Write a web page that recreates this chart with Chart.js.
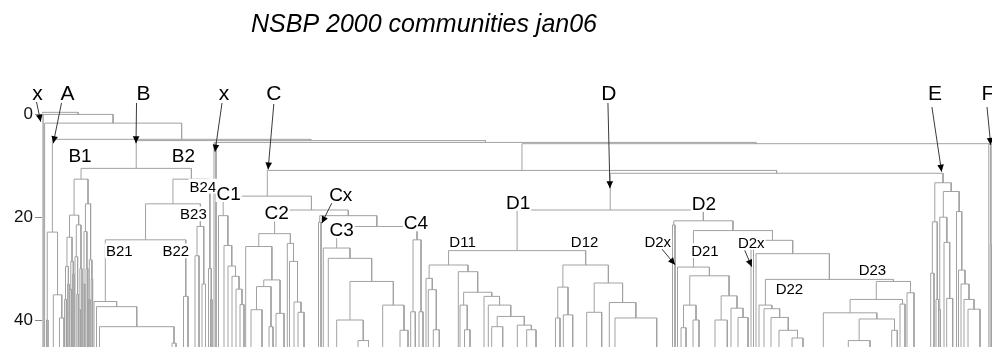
<!DOCTYPE html>
<html>
<head>
<meta charset="utf-8">
<script src="https://cdn.jsdelivr.net/npm/chart.js@4/dist/chart.umd.min.js"></script>
<style>
html,body{margin:0;padding:0;background:#fff;}
#wrap{width:992px;height:347px;position:relative;}
</style>
</head>
<body>
<div id="wrap"><canvas id="c"></canvas></div>
<script>
// ---------------- DATA ----------------
// Dendrogram of communities. Leaf positions are in leaf-order units (0..475);
// heights are the merge levels on the vertical axis (0 at top).
// A cluster is [mergeHeight, left, right]; a plain number is a branch that
// continues below the visible window.
const chartTitle = 'NSBP 2000 communities jan06';
const yTicks = [0, 20, 40];

const leavesX = [0, 0.65, 1.3];
const clusterA   = [22.9, [40, 2.25, 3], [35.1, 5.65, [39.6, 8.75, 11]]];
const clusterB1  = [12.6,
  [19.6, [23.9, [29.6, [36, 11.3, 12.2], [33, 12.8, 13.6]], [28.6, [34, 14, 14.8], [31, 15.3, 16]]],
         [21.5, [27.7, 16.5, [35, 17.4, 18.2]], [30, [38, 18.6, 19.3], 20]]],
  [17.4, [22.8, [33, 20.6, 21.4], [30, 22, 22.9]], [28.3, [36, 23.3, 24], [32, 24.6, 25.3]]]];
const clusterB21 = [36.4, 26, [37.4, 27.25, [41.3, 28.75, [44.5, 65, 67]]]];
const clusterB22 = [35.4, 70.75, 73];
const clusterB23 = [21.8, [27.5, 76.5, 78.5], [33, 80, 81.75]];
const clusterB24 = [30, 83.25, [36, 84.25, 85]];
const clusterX2  = [5.5, 86, 87];
const clusterC1  = [19.7, 88.25, [25.5, 91, [29.5, 93, [31.5, 95, [34, 97, [37, 99, 101]]]]]];
const clusterC2  = [23.2,
  [25.7, 101.85, [32.2, [33.5, [38, 104.5, 110], [41.3, 113.5, 115.5]], [38.7, 117, 121]]],
  [25.1, 122.65, [28.6, 123.75, [36.5, 126, [38.5, 128, 131]]]]];
const clusterCx  = [21, 138.25, 139.5];
const clusterC3  = [26.0, 140.65, [28.0, 143.15, [32.5, [40.0, 147.35, [44, 158, 163.25]], [37.1, 170.35, [42, 179, 183]]]]];
const clusterC4  = [24.4, [38.4, 184.35, 186.65], [38.4, 188.5, 190.5]];
const clusterD11 = [29.3,
  [31.9, 192, [34.1, 193.15, [41.9, 195.65, 198.65]]],
  [30.6, 208.15, [34.6, [37.1, 209, [41.9, 211.25, 214]],
    [35.4, 221, [37.1, 223.15, [39.3, [41.3, 224.85, 230.35], [41, 237.65, [41.9, 242.35, 247]]]]]]]];
const clusterD12 = [29.3,
  [33.6, [39.6, 256.75, 259], [39, 260.65, 265.35]],
  [32.8, [38.5, 272.35, 279.85], [36.6, 283.65, [39.6, 286.5, 307.35]]]];
const clusterD2x  = [21.5, 315.25, 316.5];
const clusterD21  = [29.7, 317.75, [31.4, [37.1, [41.5, 319.5, 322], [40, 325.5, 328.5]],
  [35.3, [40, 336.5, 342.65], [37.7, 344.5, [39.5, 348, 353]]]]];
const clusterD2x2 = [25, 354.5, 355.75];
const clusterD22  = [37.1, 358.5, [37.8, 361, [39.5, 364.5, [42, 368.5, [43.5, 375, 380.5]]]]];
const clusterD23  = [32.5, [36, [38.6, 390.65, [39.8, [44, 403.15, 414], [42, 424.85, 427.65]]], [36.9, 429, 431.5]], [34.7, 432.5, 436]];
const clusterE    = [13.3,
  [20.9, [30.9, 444.35, 446], [36, 447, 448.25]],
  [15, [20, [38, 448.5, 449.25], [24.9, 451, [35.8, 452.35, 455.35]]],
       [18.9, 457.25, [30.3, 458.25, [33, 459.5, [36, 461, [37.9, 463, 469]]]]]]];
const clusterF    = [5.8, 473.4, [25.5, 474.1, 474.75]];

// upper joins between the named clusters
const joinName   = ['B2b','B2a','B2','B','C34','Cq','Cr','C','D1','D2t','D2s','D2q','D2r','D2','D','N8','N7','N6','N5','N4','N3','N2','N1','root'];
const joinLeft   = ['B21','B2b','B2a','B1','C3','Cx','C2','C1','D11','D22',357,'D2x2','D21','D2x','D1','D','C','N7','X2','B','A','x2','x1','x0'];
const joinRight  = ['B22','B23','B24','B2','C4','C34','Cq','Cr','D12','D23','D2t','D2s','D2q','D2r','D2','E','N8','F','N6','N5','N4','N3','N2','N1'];
const joinHeight = [24.4, 17.4, 12.6, 10.5, 21.8, 19.7, 18.6, 15.9, 26.5, 32.1, 27.1, 24.5, 22.6, 20.7, 18.6, 11.45, 10.9, 5.7, 5.45, 5.1, 4.85, 1.7, 0, -0.4];

// annotations
const arrowLabels  = ['x','A','B','x','C','D','E','F'];
const arrowTargets = ['x0','A','B','X2','C','D','E','F'];
const clusterLabels  = ['B1','B2','B24','B23','B21','B22','C1','C2','Cx','C3','C4','D1','D2','D11','D12','D2x','D21','D2x','D23','D22'];
const clusterTargets = ['B1','B2','B24','B23','B21','B22','C1','C2','Cx','C3','C4','D1','D2','D11','D12','D2x','D21','D2x2','D23','D22'];

// ---------------- LAYOUT / STYLE ----------------
const FONT = '"Liberation Sans", Arial, Helvetica, sans-serif';
const LINE_COLOR = '#a2a2a2';
const arrowLabelDx = [-4.5, 15.1, 7.3, 9, 6.5, -1.3, -8.1, -1.8];
const arrowTipOff  = [[-1.3,9.4],[0.9,4],[-0.2,2.7],[0,9.3],[0.8,-1],[-0.3,15],[-1.4,-1.6],[0.9,1.3]];
const arrowStartOff = [[-1,9],[-6,10],[-7,10],[-2,10],[0,11],[-1,10],[-3,14],[-1,14]];
const bigLabels = ['B1','B2','C1','C2','Cx','C3','C4','D1','D2'];
const clusterLabelOff = [[-1,-13],[-8,-13],[-7,7],[-7,10],[14,11],[-10,11],[5.5,-3],[2,2.5],[21,-21.5],[5,3],[-1,-4],[1,-8],[0.5,-7],[14,-9],[-1,-9],[-16,21],[11.5,20],[-1,2],[-21,-10],[24,9]];
const clusterArrowTip = {8: [2,7.5], 15: [1.3,44], 17: [-0.5,26.4]};
const clusterArrowStart = {8: [-9,9], 15: [4,7], 17: [-6.5,8]};

// ---------------- BUILD TREE ----------------
const clusters = {
  x0: leavesX[0], x1: leavesX[1], x2: leavesX[2],
  A: clusterA, B1: clusterB1, B21: clusterB21, B22: clusterB22, B23: clusterB23, B24: clusterB24,
  X2: clusterX2, C1: clusterC1, C2: clusterC2, Cx: clusterCx, C3: clusterC3, C4: clusterC4,
  D11: clusterD11, D12: clusterD12, D2x: clusterD2x, D21: clusterD21, D2x2: clusterD2x2,
  D22: clusterD22, D23: clusterD23, E: clusterE, F: clusterF
};
const LEAF_BOTTOM = 60;
const nodes = {};
const segs = [];
function layoutNode(n) {
  if (typeof n === 'number') return {x: n, h: LEAF_BOTTOM};
  if (typeof n === 'string') return resolve(n);
  const h = n[0];
  const L = layoutNode(n[1]), R = layoutNode(n[2]);
  if (typeof n[1] === 'string') nodes[n[1]].top = h;
  if (typeof n[2] === 'string') nodes[n[2]].top = h;
  segs.push([[L.x, L.h], [L.x, h], [R.x, h], [R.x, R.h]]);
  return {x: (L.x + R.x) / 2, h: h};
}
function resolve(name) {
  if (nodes[name]) return nodes[name];
  let r;
  if (name in clusters) r = layoutNode(clusters[name]);
  else {
    const i = joinName.indexOf(name);
    r = layoutNode([joinHeight[i], joinLeft[i], joinRight[i]]);
  }
  nodes[name] = r;
  return r;
}
resolve('root');
nodes.root.top = nodes.root.h;

const pts = [];
segs.forEach(s => {
  s.forEach(p => pts.push({x: p[0], y: p[1]}));
  pts.push({x: s[3][0], y: null});
});

// ---------------- DRAW ----------------
function arrow(ctx, x1, y1, x2, y2) {
  ctx.strokeStyle = '#3a3a3a'; ctx.lineWidth = 1;
  ctx.beginPath(); ctx.moveTo(x1, y1); ctx.lineTo(x2, y2); ctx.stroke();
  const a = Math.atan2(y2 - y1, x2 - x1), L = 7, W = 3.3;
  ctx.fillStyle = '#000';
  ctx.beginPath();
  ctx.moveTo(x2, y2);
  ctx.lineTo(x2 - L * Math.cos(a) + W * Math.sin(a), y2 - L * Math.sin(a) - W * Math.cos(a));
  ctx.lineTo(x2 - L * Math.cos(a) - W * Math.sin(a), y2 - L * Math.sin(a) + W * Math.cos(a));
  ctx.closePath(); ctx.fill();
}
function boxedText(ctx, t, cx, cy, size) {
  ctx.font = size + 'px ' + FONT;
  const w = ctx.measureText(t).width, capH = size * 0.72;
  ctx.fillStyle = '#fff';
  ctx.fillRect(cx - w / 2 - 1, cy - capH / 2 - 2, w + 2, capH + 4);
  ctx.fillStyle = '#000';
  ctx.textAlign = 'center'; ctx.textBaseline = 'alphabetic';
  ctx.fillText(t, cx, cy + capH / 2);
}
const annotate = {
  id: 'annotate',
  afterDraw(chart) {
    const ctx = chart.ctx, xs = chart.scales.x, ys = chart.scales.y;
    const anchor = name => [xs.getPixelForValue(nodes[name].x), ys.getPixelForValue(nodes[name].top)];
    ctx.save();
    // title
    ctx.font = 'italic 25px ' + FONT;
    ctx.fillStyle = '#000'; ctx.textAlign = 'center'; ctx.textBaseline = 'alphabetic';
    ctx.fillText(chartTitle, 424, 32);
    // top labels with arrows
    arrowLabels.forEach((t, i) => {
      const [ax, ay] = anchor(arrowTargets[i]);
      const lx = ax + arrowLabelDx[i], ly = 93;
      ctx.font = '21px ' + FONT; ctx.fillStyle = '#000';
      ctx.textAlign = 'center'; ctx.textBaseline = 'alphabetic';
      ctx.fillText(t, lx, 100);
      arrow(ctx, lx + arrowStartOff[i][0], ly + arrowStartOff[i][1], ax + arrowTipOff[i][0], ay + arrowTipOff[i][1]);
    });
    // cluster labels
    clusterLabels.forEach((t, i) => {
      const [ax, ay] = anchor(clusterTargets[i]);
      const cx = ax + clusterLabelOff[i][0], cy = ay + clusterLabelOff[i][1];
      const size = bigLabels.includes(t) ? 19 : 15;
      if (clusterArrowTip[i]) {
        arrow(ctx, cx + clusterArrowStart[i][0], cy + clusterArrowStart[i][1], ax + clusterArrowTip[i][0], ay + clusterArrowTip[i][1]);
      }
      boxedText(ctx, t, cx, cy, size);
    });
    ctx.restore();
  }
};

new Chart(document.getElementById('c'), {
  type: 'line',
  data: {
    datasets: [{
      data: pts,
      borderColor: LINE_COLOR,
      borderWidth: 1,
      pointRadius: 0,
      pointHoverRadius: 0,
      spanGaps: false,
      tension: 0,
      fill: false
    }]
  },
  options: {
    responsive: true,
    maintainAspectRatio: false,
    animation: false,
    devicePixelRatio: 1,
    layout: {padding: {top: 100, left: 0, right: 0, bottom: 0}},
    plugins: {legend: {display: false}, tooltip: {enabled: false}, title: {display: false}},
    events: [],
    scales: {
      x: {type: 'linear', min: 0, max: 475, display: false},
      y: {
        type: 'linear', min: -2.8, max: 45.25, reverse: true,
        afterFit(s) { s.width = 42; s.paddingTop = 0; s.paddingBottom = 0; },
        afterBuildTicks(s) { s.ticks = yTicks.map(v => ({value: v})); },
        ticks: {font: {family: FONT, size: 17}, color: '#111', padding: 2},
        grid: {drawOnChartArea: false, tickLength: 7, color: '#888', tickWidth: 1},
        border: {display: false}
      }
    }
  },
  plugins: [annotate]
});
</script>
</body>
</html>
